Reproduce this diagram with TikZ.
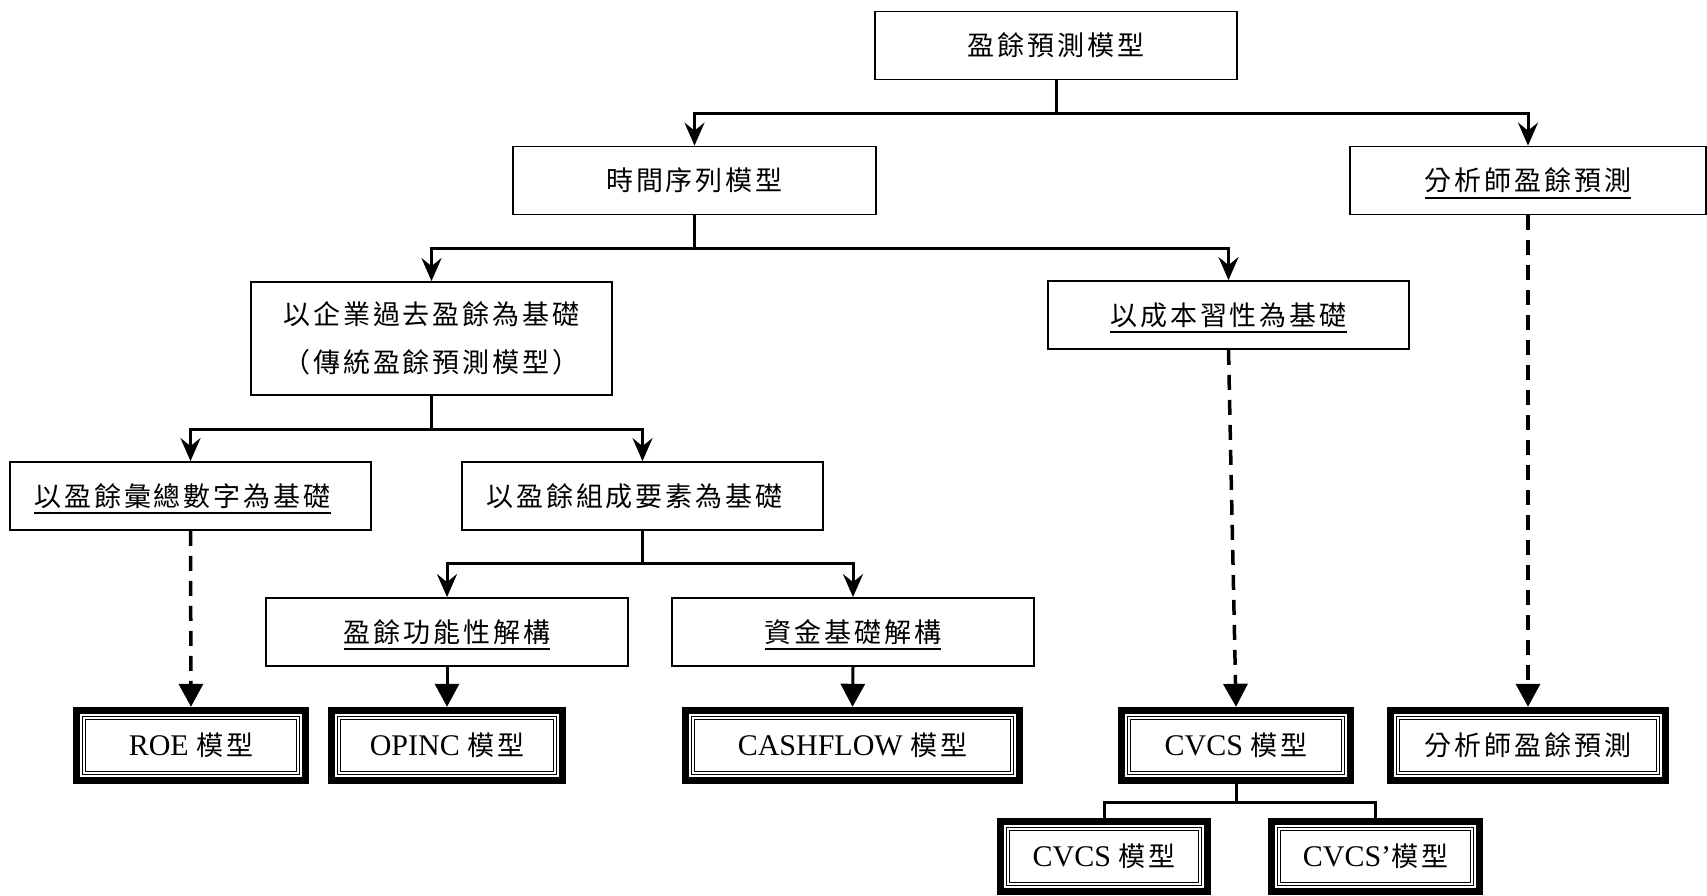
\documentclass[tikz,border=0pt]{standalone}
\usepackage{fontspec}
\setmainfont{Liberation Serif}
\newfontfamily\cjk{Noto Sans CJK TC}[Scale=0.9,LetterSpace=11]
\usetikzlibrary{arrows.meta}

\newsavebox\ulbox
\newcommand\ulabel[1]{\sbox\ulbox{#1}\rlap{\raisebox{-8pt}[0pt][0pt]{\rule{\wd\ulbox}{2pt}}}\usebox\ulbox}

\tikzset{
  box/.style={draw, line width=1.8pt, inner sep=0pt, minimum height=68pt,
    minimum width=#1, align=center, font={\cjk\fontsize{30}{48}\selectfont}},
  modelbox/.style={inner sep=0pt, minimum height=77pt, minimum width=#1,
    font={\fontsize{30}{36}\selectfont},
    path picture={
      \draw[line width=7pt] ([shift={(3.5pt,3.5pt)}]path picture bounding box.south west)
        rectangle ([shift={(-3.5pt,-3.5pt)}]path picture bounding box.north east);
      \draw[line width=1.3pt] ([shift={(9.4pt,9.4pt)}]path picture bounding box.south west)
        rectangle ([shift={(-9.4pt,-9.4pt)}]path picture bounding box.north east);
      \draw[line width=1.1pt] ([shift={(12.4pt,12.4pt)}]path picture bounding box.south west)
        rectangle ([shift={(-12.4pt,-12.4pt)}]path picture bounding box.north east);
    }},
  branch/.style={line width=3pt, -{Stealth[length=23pt,width=20pt,inset=8pt]}},
  solidlink/.style={line width=3pt, -{Triangle[length=23pt,width=24pt]}},
  dashlink/.style={line width=3.5pt, dash pattern=on 15pt off 10pt,
    -{Triangle[length=23pt,width=24pt]}},
  joinline/.style={line width=3pt}
}

\begin{document}
\begin{tikzpicture}[x=1pt,y=-1pt]
\useasboundingbox (0,0) rectangle (1707,895);

% Upper levels
\node[box=362pt] (top) at (1056,45.5) {盈餘預測模型};
\node[box=363pt] (ts) at (694.5,180.5) {時間序列模型};
\node[box=356pt] (analyst) at (1528,180.5) {\ulabel{分析師盈餘預測}};
\node[box=361pt, minimum height=113pt] (left) at (431.5,338.5) {以企業過去盈餘為基礎\\（傳統盈餘預測模型）};
\node[box=361pt] (cost) at (1228.5,315) {\ulabel{以成本習性為基礎}};
\node[box=361pt] (agg) at (190.5,496) {\ulabel{以盈餘彙總數字為基礎}\hspace*{16pt}};
\node[box=361pt] (comp) at (642.5,496) {以盈餘組成要素為基礎\hspace*{16pt}};
\node[box=362pt] (func) at (447,632) {\ulabel{盈餘功能性解構}};
\node[box=362pt] (fund) at (853,632) {\ulabel{資金基礎解構}};

% Models
\node[modelbox=236pt] (roe) at (191,745.5) {ROE {\cjk 模型}};
\node[modelbox=238pt] (opinc) at (447,745.5) {OPINC {\cjk 模型}};
\node[modelbox=341pt] (cash) at (852.5,745.5) {CASHFLOW {\cjk 模型}};
\node[modelbox=236pt] (cvcs) at (1236,745.5) {CVCS {\cjk 模型}};
\node[modelbox=282pt] (anam) at (1528,745.5) {{\cjk 分析師盈餘預測}};
\node[modelbox=214pt] (cvcsa) at (1104,856.5) {CVCS {\cjk 模型}};
\node[modelbox=215pt] (cvcsb) at (1375.5,856.5) {CVCS’{\cjk 模型}};

% Bus lines
\coordinate (b1) at (0,113);
\coordinate (b2) at (0,248);
\coordinate (b3) at (0,429);
\coordinate (b4) at (0,563);
\coordinate (b5) at (0,802);

% Tree connectors
\draw[branch] (top.south) |- (ts.north |- b1) -- (ts.north);
\draw[branch] (top.south) |- (analyst.north |- b1) -- (analyst.north);
\draw[branch] (ts.south) |- (left.north |- b2) -- (left.north);
\draw[branch] (ts.south) |- (cost.north |- b2) -- (cost.north);
\draw[branch] (left.south) |- (agg.north |- b3) -- (agg.north);
\draw[branch] (left.south) |- (comp.north |- b3) -- (comp.north);
\draw[branch] (comp.south) |- (func.north |- b4) -- (func.north);
\draw[branch] (comp.south) |- (fund.north |- b4) -- (fund.north);

% Into the models
\draw[dashlink] (agg.south) -- (roe.north);
\draw[solidlink] (func.south) -- (opinc.north);
\draw[solidlink] (fund.south) -- (cash.north);
\draw[dashlink] (cost.south) -- (cvcs.north);
\draw[dashlink] (analyst.south) -- (anam.north);

% CVCS split
\draw[joinline] (cvcs.south) |- (cvcsa.north |- b5) -- (cvcsa.north);
\draw[joinline] (cvcs.south) |- (cvcsb.north |- b5) -- (cvcsb.north);

\end{tikzpicture}
\end{document}
